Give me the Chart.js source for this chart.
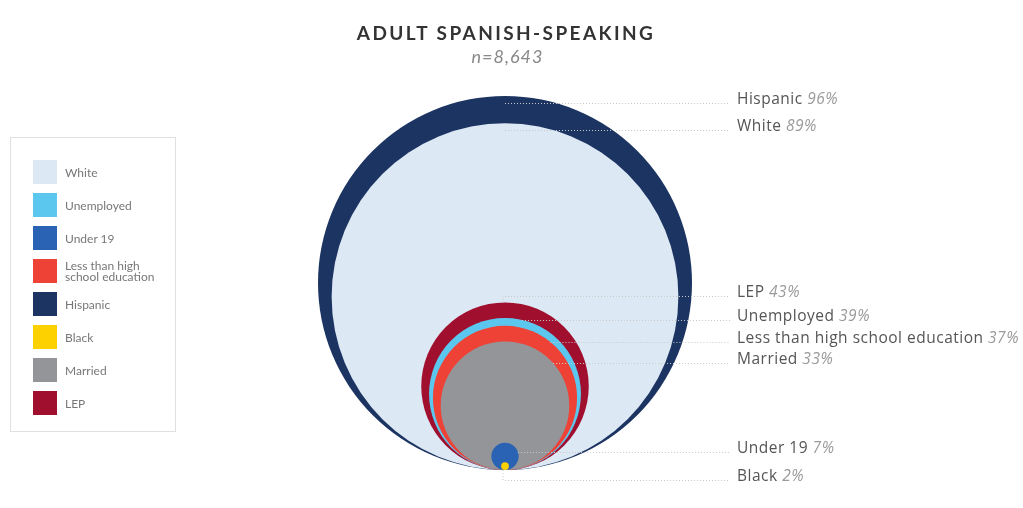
<!DOCTYPE html>
<html>
<head>
<meta charset="utf-8">
<script src="https://cdn.jsdelivr.net/npm/chart.js@4"></script>
<style>
  html, body { margin: 0; padding: 0; background: #fff; }
  #wrap { position: relative; width: 1023px; height: 508px; overflow: hidden; font-family: Lato, "Open Sans", sans-serif; }
  #circles { position: absolute; left: 0; top: 0; }
  #title { position: absolute; left: 0; width: 1012px; top: 21px; text-align: center; font-size: 19px; font-weight: 700; letter-spacing: 2.4px; color: #333; }
  #subtitle { position: absolute; left: 0; width: 1015px; top: 45px; text-align: center; font-size: 18px; font-style: italic; letter-spacing: 1px; color: #888; }
  #legend { position: absolute; left: 10px; top: 137px; width: 166px; height: 295px; border: 1px solid #e0e0e0; box-sizing: border-box; }
  .item { position: absolute; left: 22px; display: flex; align-items: center; }
  .swatch { width: 24px; height: 24px; flex: none; }
  .item span { margin-left: 8px; font-size: 12px; line-height: 11px; color: #777; width: 100px; }
</style>
</head>
<body>
<div id="wrap">
  <canvas id="circles" width="1023" height="508"></canvas>
  <div id="title">ADULT SPANISH-SPEAKING</div>
  <div id="subtitle">n=8,643</div>
  <div id="legend"></div>
</div>
<script>
// groups, largest first so smaller circles sit on top
const groups = ["Hispanic", "White", "LEP", "Unemployed", "Less than high school education", "Married", "Under 19", "Black"];
const shares = [96, 89, 43, 39, 37, 33, 7, 2];
const colors = ["#1c3461", "#dde8f5", "#a10f2e", "#5cc7ee", "#ee4237", "#939598", "#2a63b3", "#fdd000"];
const legendOrder = ["White", "Unemployed", "Under 19", "Less than high school education", "Hispanic", "Black", "Married", "LEP"];

// label layout on the right
const labelY = [100, 127, 293, 317, 339, 360, 449, 477];
const leaderFromEdge = [false, false, false, true, true, true, true, false];

// pixels per percentage point, same on both axes so circles stay round
const W = 1023, H = 508, baseX = 505, baseY = 470, k = 187 / 96;

const legend = document.getElementById("legend");
legendOrder.forEach((name, i) => {
  const el = document.createElement("div");
  el.className = "item";
  el.style.top = (22 + i * 33) + "px";
  el.innerHTML = '<div class="swatch" style="background:' + colors[groups.indexOf(name)] + '"></div><span>' + name + "</span>";
  legend.appendChild(el);
});

const leaderLabels = {
  id: "leaderLabels",
  afterDatasetsDraw(chart) {
    const ctx = chart.ctx;
    const pts = chart.getDatasetMeta(0).data;
    ctx.save();
    pts.forEach((p, i) => {
      const r = p.options.radius;
      const top = p.y - r, bottom = p.y + r;
      const ly = labelY[i] + 3;
      let sx = p.x;
      if (leaderFromEdge[i] && ly > top && ly < bottom) {
        sx = p.x + Math.sqrt(r * r - (ly - p.y) * (ly - p.y));
      }
      ctx.strokeStyle = "#c9c9c9";
      ctx.lineWidth = 1;
      ctx.setLineDash([1, 2]);
      ctx.beginPath();
      if (ly < top) { ctx.moveTo(p.x - 2, top); ctx.lineTo(p.x - 2, ly); }
      if (ly > bottom) { ctx.moveTo(p.x - 2, bottom); ctx.lineTo(p.x - 2, ly); }
      ctx.moveTo(sx, ly + 0.5);
      ctx.lineTo(730, ly + 0.5);
      ctx.stroke();
      ctx.setLineDash([]);

      ctx.textBaseline = "middle";
      ctx.textAlign = "left";
      ctx.letterSpacing = "0.5px";
      ctx.font = "15.5px 'Open Sans'";
      ctx.fillStyle = "#555";
      const name = groups[i] + " ";
      ctx.fillText(name, 737, labelY[i]);
      const w = ctx.measureText(name).width;
      ctx.font = "italic 15.5px 'Open Sans'";
      ctx.fillStyle = "#9a9a9a";
      ctx.fillText(shares[i] + "%", 737 + w, labelY[i]);
    });
    ctx.restore();
  }
};

new Chart(document.getElementById("circles"), {
  type: "scatter",
  data: {
    labels: groups,
    datasets: [{
      data: shares.map((v) => ({ x: 0, y: v })),
      backgroundColor: colors,
      borderWidth: 0,
      pointBorderWidth: 0,
      showLine: false,
      clip: false,
      pointRadius: (c) => {
        const y = c.chart.scales.y;
        return y.getPixelForValue(0) - y.getPixelForValue(shares[c.dataIndex]);
      },
    }],
  },
  options: {
    responsive: false,
    animation: false,
    events: [],
    layout: { padding: 0 },
    scales: {
      x: { display: false, min: -baseX / k, max: (W - baseX) / k },
      y: { display: false, min: -(H - baseY) / k, max: baseY / k },
    },
    plugins: {
      legend: { display: false },
      tooltip: { enabled: false },
    },
  },
  plugins: [leaderLabels],
});
</script>
</body>
</html>
